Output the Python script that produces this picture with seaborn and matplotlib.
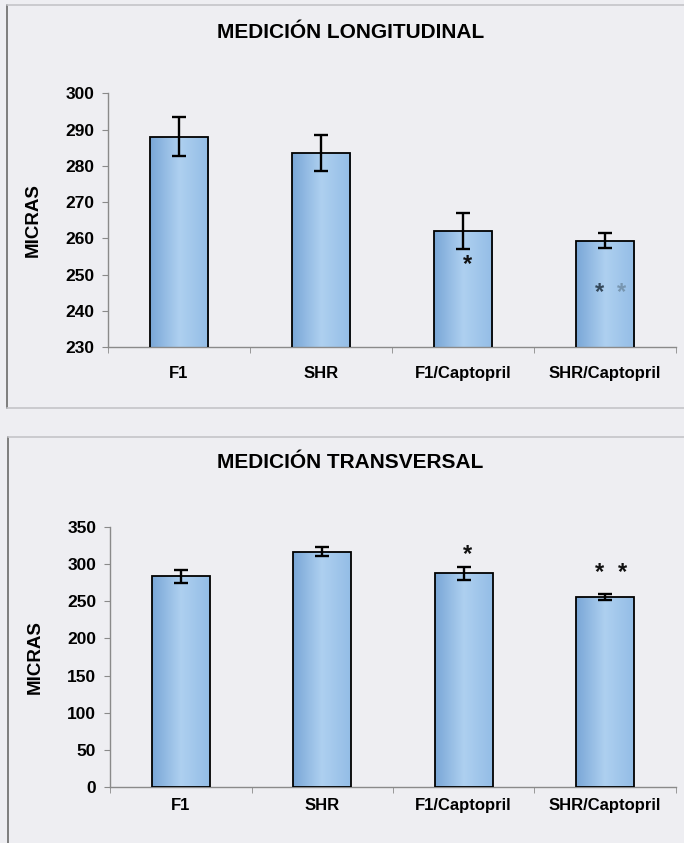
import numpy as np
import pandas as pd
import matplotlib
matplotlib.use('Agg')
from matplotlib import pyplot as plt
from matplotlib.colors import LinearSegmentedColormap
from matplotlib.lines import Line2D
import seaborn as sns

grupos = ['F1', 'SHR', 'F1/Captopril', 'SHR/Captopril']
long_media = [288.1, 283.6, 262.0, 259.3]
long_error = [5.3, 5.0, 4.9, 2.1]
trans_media = [283.4, 316.7, 287.5, 256.0]
trans_error = [9.0, 6.3, 9.0, 4.0]
long_yticks = [230, 240, 250, 260, 270, 280, 290, 300]
trans_yticks = [0, 50, 100, 150, 200, 250, 300, 350]

sns.set_style('white')
plt.rcParams['font.family'] = ['Liberation Sans', 'DejaVu Sans']
plt.rcParams['text.color'] = 'black'
plt.rcParams['axes.labelcolor'] = 'black'
plt.rcParams['xtick.color'] = 'black'
plt.rcParams['ytick.color'] = 'black'

bg = '#eeeef2'
bar_cmap = LinearSegmentedColormap.from_list('barra', ['#7aa7d7', '#aed0f0', '#94bde6'])


def draw_panel(ax, medias, errores, yticks, label_coords, xpad):
    df = pd.DataFrame({'grupo': grupos, 'valor': medias})
    sns.barplot(data=df, x='grupo', y='valor', color='#a4c8ec', width=0.41,
                edgecolor='black', linewidth=1.3, errorbar=None, ax=ax)
    ax.errorbar(np.arange(len(grupos)), medias, yerr=errores, fmt='none',
                ecolor='black', elinewidth=1.7, capsize=5, capthick=1.7, zorder=5)
    ymin, ymax = yticks[0], yticks[-1]
    # horizontal gradient inside each bar
    grad = np.linspace(0, 1, 64).reshape(1, -1)
    for bar in ax.patches:
        x0, y0 = bar.get_x(), bar.get_y()
        w, h = bar.get_width(), bar.get_height()
        im = ax.imshow(grad, extent=[x0, x0 + w, max(y0, ymin), min(y0 + h, ymax)],
                       aspect='auto', cmap=bar_cmap, zorder=2, interpolation='bilinear')
        im.set_clip_path(bar)
        bar.set_facecolor('none')
        bar.set_zorder(3)
    ax.set_xlim(-0.5, len(grupos) - 0.5)
    ax.set_ylim(ymin, ymax)
    ax.set_yticks(yticks)
    ax.set_facecolor(bg)
    ax.set_xlabel('')
    ax.set_ylabel('MICRAS', fontsize=13.5, fontweight='bold')
    ax.yaxis.set_label_coords(*label_coords)
    for s in ['top', 'right']:
        ax.spines[s].set_visible(False)
    for s in ['left', 'bottom']:
        ax.spines[s].set_color('#8a8a8a')
        ax.spines[s].set_linewidth(1.0)
    ax.tick_params(axis='y', length=4, color='#8a8a8a', labelsize=12.5, pad=6,
                   direction='out', left=True, labelcolor='black')
    ax.tick_params(axis='x', which='major', length=0, labelsize=12, pad=xpad, labelcolor='black')
    for lab in ax.get_xticklabels() + ax.get_yticklabels():
        lab.set_fontweight('bold')
    ax.set_xticks(np.arange(-0.5, len(grupos)), minor=True)
    ax.tick_params(axis='x', which='minor', length=4, color='#8a8a8a', direction='out', bottom=True)


fig = plt.figure(figsize=(6.84, 8.43), dpi=100, facecolor=bg)

ax1 = fig.add_axes([0.158, 0.5884, 0.830, 0.3007])
draw_panel(ax1, long_media, long_error, long_yticks, (-0.116, 0.5), 14)
ax1.text(2.03, 252.8, '*', ha='center', va='center', fontsize=17, fontweight='bold', color='#111111', zorder=6)
ax1.text(2.965, 245.0, '*', ha='center', va='center', fontsize=17, fontweight='bold', color='#34485a', zorder=6)
ax1.text(3.12, 245.0, '*', ha='center', va='center', fontsize=17, fontweight='bold', color='#7896b0', zorder=6)

ax2 = fig.add_axes([0.161, 0.0664, 0.827, 0.3085])
draw_panel(ax2, trans_media, trans_error, trans_yticks, (-0.117, 0.5), 8)
ax2.text(2.03, 313.0, '*', ha='center', va='center', fontsize=17, fontweight='bold', color='#111111', zorder=6)
ax2.text(2.96, 289.0, '*', ha='center', va='center', fontsize=17, fontweight='bold', color='#111111', zorder=6)
ax2.text(3.12, 289.0, '*', ha='center', va='center', fontsize=17, fontweight='bold', color='#111111', zorder=6)

fig.text(0.512, 0.961, 'MEDICIÓN LONGITUDINAL', ha='center', va='center', fontsize=15, fontweight='bold')
fig.text(0.512, 0.451, 'MEDICIÓN TRANSVERSAL', ha='center', va='center', fontsize=15, fontweight='bold')

# panel frames
H = 843.0
W = 684.0
frame = [
    ((7, 7), (5, 408), '#6a6a6a'),
    ((7, 684), (5, 5), '#c4c4c8'),
    ((7, 684), (408, 408), '#c4c4c8'),
    ((8, 8), (437, 843), '#6a6a6a'),
    ((8, 684), (437, 437), '#c4c4c8'),
]
for xs, ys, c in frame:
    fig.add_artist(Line2D([x / W for x in xs], [1 - y / H for y in ys], color=c, lw=1.2))

fig.savefig('out.png', dpi=100, facecolor=bg)
